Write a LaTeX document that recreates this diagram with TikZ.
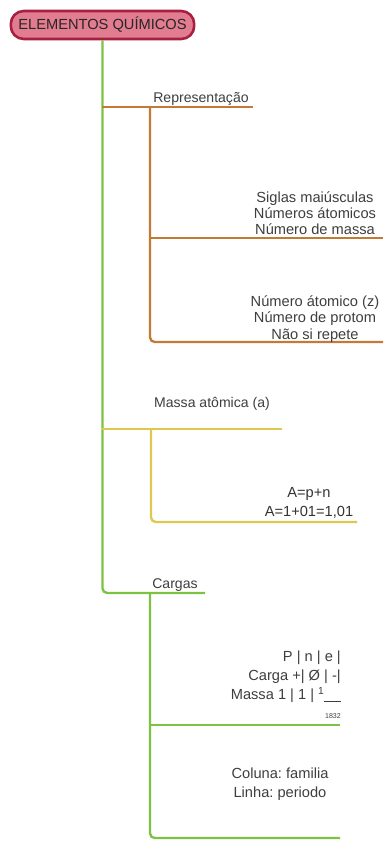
\documentclass[tikz,border=0pt]{standalone}
\usepackage{fontspec}
\setmainfont{Liberation Sans}
\frenchspacing
\definecolor{mapgreen}{RGB}{126, 194, 66}
\definecolor{maporange}{RGB}{196, 122, 52}
\definecolor{mapyellow}{RGB}{222, 200, 80}
\definecolor{rootfill}{RGB}{226, 124, 144}
\definecolor{rootdraw}{RGB}{168, 32, 64}
\definecolor{inkgray}{RGB}{62, 62, 62}
\usetikzlibrary{positioning, calc}

\begin{document}
\begin{tikzpicture}[
      x=0.03cm, y=-0.03cm,
      rootbox/.style={rectangle, draw=rootdraw, fill=rootfill, line width=2.2pt,
                      rounded corners=11pt, minimum width=5.5cm, minimum height=0.84cm,
                      inner sep=2pt, font=\fontsize{12.5}{14}\selectfont, text=black!85},
      topic/.style={font=\fontsize{12}{14}\selectfont, text=inkgray, inner sep=0pt, anchor=base},
      leaf/.style={font=\fontsize{12.5}{13.8}\selectfont, text=inkgray, align=center, inner sep=0pt},
      leafwide/.style={font=\fontsize{12.5}{16.2}\selectfont, text=inkgray, align=center, inner sep=0pt},
      greenline/.style={line width=2pt, mapgreen},
      orangeline/.style={line width=2pt, maporange},
      yellowline/.style={line width=2pt, mapyellow}
    ]
      \useasboundingbox (0,0) rectangle (387,841);

      % Root
      \node[rootbox] (root) at (102.5,25) {ELEMENTOS QUÍMICOS};

      % Branch points
      \coordinate (jrep) at (102,107);
      \coordinate (repend) at (253,107);
      \coordinate (repfork) at (150,107);
      \coordinate (repmid) at (150,238);
      \coordinate (rep1) at (383,238);
      \coordinate (rep2) at (383,342);
      \coordinate (jmas) at (102,429);
      \coordinate (masend) at (282,429);
      \coordinate (masfork) at (151,429);
      \coordinate (mas1) at (357,522);
      \coordinate (carend) at (205,593);
      \coordinate (carfork) at (150,593);
      \coordinate (carmid) at (150,725);
      \coordinate (car1) at (340,725);
      \coordinate (car2) at (340,838);

      % Trunk
      \draw[greenline, rounded corners=4pt] (root.south) |- (carend);

      % Representação
      \draw[orangeline] (jrep) -- (repend);
      \draw[orangeline, rounded corners=4pt] (repfork) |- (rep2);
      \draw[orangeline] (repmid) -- (rep1);
      \node[topic] (rep) at (201,102) {Representação};
      \node[leaf] (siglas) at (315,213) {Siglas maiúsculas\\Números átomicos\\Número de massa};
      \node[leaf] (numero) at (315,319) {Número átomico (z)\\Número de protom\\Não si repete};

      % Massa atômica
      \draw[yellowline] (jmas) -- (masend);
      \draw[yellowline, rounded corners=4pt] (masfork) |- (mas1);
      \node[topic] (massa) at (212,407) {Massa atômica (a)};
      \node[leafwide, text=black!80] (formula) at (309,503) {A=p+n\\A=1+01=1,01};

      % Cargas
      \draw[greenline, rounded corners=4pt] (carfork) |- (car2);
      \draw[greenline] (carmid) -- (car1);
      \node[topic] (cargas) at (175,588) {Cargas};
      \node[leafwide, align=right, anchor=east] (tabela) at (341,677)
        {P | n | e |\\Carga +| Ø | -|\\Massa 1 | 1 | \textsuperscript{1}\underline{\hphantom{00}}\llap{\raisebox{-2.4ex}[0pt][0pt]{\fontsize{6}{7}\selectfont 1832}}};
      \node[leafwide] (tabperiod) at (280,784) {Coluna: familia\\Linha: periodo};
    \end{tikzpicture}
\end{document}
